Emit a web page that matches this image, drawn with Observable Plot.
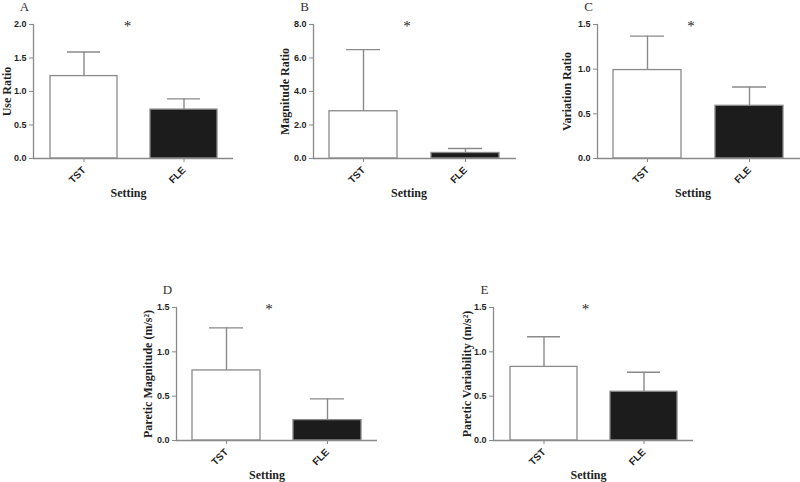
<!DOCTYPE html>
<html><head><meta charset="utf-8">
<script src="https://cdn.jsdelivr.net/npm/d3@7"></script>
<script src="https://cdn.jsdelivr.net/npm/@observablehq/plot@0.6"></script>
<style>
body{margin:0;background:#fff;}
#wrap{position:relative;width:800px;height:482px;overflow:hidden;background:#fff;}
</style></head><body><div id="wrap"></div>
<script>
// Categories
const settings = ["TST", "FLE"];
// Panel A: Use Ratio
const useRatioMean = [1.23, 0.73];
const useRatioSem = [0.36, 0.16];
// Panel B: Magnitude Ratio
const magnitudeRatioMean = [2.82, 0.33];
const magnitudeRatioSem = [3.68, 0.27];
// Panel C: Variation Ratio
const variationRatioMean = [0.99, 0.59];
const variationRatioSem = [0.38, 0.21];
// Panel D: Paretic Magnitude (m/s^2)
const pareticMagnitudeMean = [0.79, 0.23];
const pareticMagnitudeSem = [0.48, 0.24];
// Panel E: Paretic Variability (m/s^2)
const pareticVariabilityMean = [0.83, 0.55];
const pareticVariabilitySem = [0.34, 0.22];
// Tick values
const ticksA = [0, 0.5, 1.0, 1.5, 2.0];
const ticksB = [0, 2, 4, 6, 8];
const ticks15 = [0, 0.5, 1.0, 1.5];

const panels = [
  {letter: "A", label: "Use Ratio", mean: useRatioMean, sem: useRatioSem, ticks: ticksA, domain: [0, 2],
   left: 0, top: 0, width: 260, height: 210, mL: 33, mR: 27, mT: 24, mB: 52, ylab: -26, starDx: -6, setDx: -5},
  {letter: "B", label: "Magnitude Ratio", mean: magnitudeRatioMean, sem: magnitudeRatioSem, ticks: ticksB, domain: [0, 8],
   left: 260, top: 0, width: 270, height: 210, mL: 53, mR: 14, mT: 24, mB: 52, ylab: -28, starDx: -8, setDx: -6},
  {letter: "C", label: "Variation Ratio", mean: variationRatioMean, sem: variationRatioSem, ticks: ticks15, domain: [0, 1.5],
   left: 530, top: 0, width: 270, height: 210, mL: 67, mR: 0, mT: 24, mB: 52, ylab: -30, starDx: -8, setDx: -6},
  {letter: "D", label: "Paretic Magnitude (m/s²)", mean: pareticMagnitudeMean, sem: pareticMagnitudeSem, ticks: ticks15, domain: [0, 1.5],
   left: 140, top: 280, width: 270, height: 202, mL: 36, mR: 33, mT: 27, mB: 42, ylab: -28, starDx: -8, setDx: -10},
  {letter: "E", label: "Paretic Variability (m/s²)", mean: pareticVariabilityMean, sem: pareticVariabilitySem, ticks: ticks15, domain: [0, 1.5],
   left: 420, top: 280, width: 280, height: 202, mL: 73, mR: 7, mT: 27, mB: 42, ylab: -26, starDx: -8, setDx: -5}
];

const gray = "#8a8a8a";
const ink = "#1f1f1f";
const serif = "'Liberation Serif', 'Times New Roman', serif";
const wrap = document.getElementById("wrap");

for (const p of panels) {
  const data = settings.map((s, i) => ({setting: s, mean: p.mean[i], sem: p.sem[i]}));
  const svg = Plot.plot({
    width: p.width,
    height: p.height,
    marginLeft: p.mL, marginRight: p.mR, marginTop: p.mT, marginBottom: p.mB,
    style: {fontFamily: "'Liberation Sans', Arial, sans-serif", fontSize: "9px", fontWeight: "bold", color: ink, background: "#fff", overflow: "visible"},
    x: {domain: settings, paddingInner: 0.33, paddingOuter: 0.16, label: null},
    y: {domain: p.domain, label: null},
    color: {domain: settings, range: ["#ffffff", "#1c1c1c"]},
    marks: [
      Plot.ruleX(data, {x: "setting", y1: "mean", y2: d => d.mean + d.sem, stroke: gray, strokeWidth: 1.4}),
      Plot.tickY(data, {x: "setting", y: d => d.mean + d.sem, insetLeft: 17, insetRight: 17, stroke: gray, strokeWidth: 1.4}),
      Plot.barY(data, {x: "setting", y: "mean", fill: "setting", stroke: gray, strokeWidth: 1.3}),
      Plot.frame({anchor: "left", stroke: gray, strokeWidth: 1.3}),
      Plot.ruleY([0], {stroke: gray, strokeWidth: 1.3}),
      Plot.axisY({ticks: p.ticks, tickFormat: d3.format(".1f"), tickSize: 4, tickPadding: 3, stroke: gray, fill: ink, label: null}),
      Plot.axisX({tickRotate: -45, tickSize: 4, tickPadding: 6, fontSize: 10, stroke: gray, fill: ink, label: null}),
      Plot.text([p.label], {frameAnchor: "left", rotate: -90, dx: p.ylab, textAnchor: "middle", lineAnchor: "middle",
        fontFamily: serif, fontSize: 12, fontWeight: "bold", fill: ink}),
      Plot.text(["Setting"], {frameAnchor: "bottom", dx: p.setDx, dy: 35, textAnchor: "middle", lineAnchor: "middle",
        fontFamily: serif, fontSize: 12, fontWeight: "bold", fill: ink}),
      Plot.text(["*"], {frameAnchor: "top", dx: p.starDx, dy: 2, textAnchor: "middle", lineAnchor: "middle",
        fontFamily: serif, fontSize: 15, fontWeight: "normal", fill: ink}),
      Plot.text([p.letter], {frameAnchor: "top-left", dx: -9, dy: -18, textAnchor: "middle", lineAnchor: "middle",
        fontFamily: serif, fontSize: 13, fontWeight: "normal", fill: "#333"})
    ]
  });
  svg.style.position = "absolute";
  svg.style.left = p.left + "px";
  svg.style.top = p.top + "px";
  svg.style.maxWidth = "none";
  wrap.appendChild(svg);
}
</script></body></html>
